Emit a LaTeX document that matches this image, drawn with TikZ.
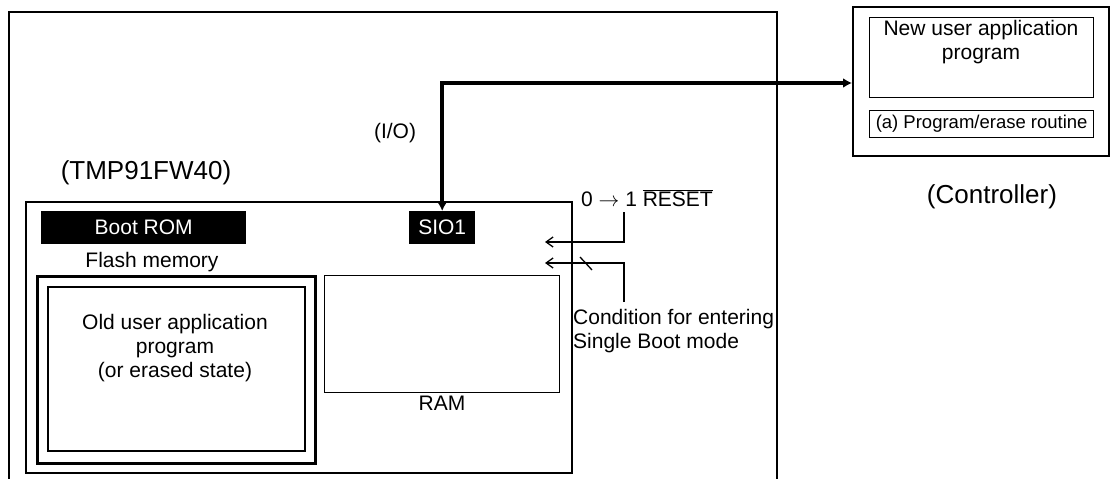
\documentclass[tikz,border=0pt]{standalone}
\usepackage{fontspec}
\setmainfont{Liberation Sans}
\usetikzlibrary{arrows.meta}
\begin{document}
\begin{tikzpicture}[x=1pt,y=-1pt,
  txt/.style={font=\fontsize{21}{24}\selectfont, inner sep=0pt, align=center},
  big/.style={font=\fontsize{26}{30}\selectfont, inner sep=0pt},
  small/.style={font=\fontsize{18.5}{22}\selectfont, inner sep=0pt},
  blk/.style={fill=black, text=white, font=\fontsize{21}{24}\selectfont, inner sep=0pt, anchor=north west},
  box/.style={draw, line width=#1, inner sep=0pt, anchor=north west},
  box/.default=1.3pt,
  sig/.style={line width=1.3pt, -{Straight Barb[length=7pt,width=10pt]}},
  bus/.style={line width=4pt, {Latex[length=9pt,width=10pt]}-{Latex[length=9pt,width=10pt]}}
]
\useasboundingbox (0,0) rectangle (1117,479);
% outer device box (open at bottom)
\draw[line width=2pt] (9,479) -- (9,12) -- (777,12) -- (777,479);
% chip
\node[box=1.5pt, minimum width=546pt, minimum height=271pt] (chip) at (25,201) {};
\node[blk, minimum width=205pt, minimum height=33pt] (boot) at (41,211) {Boot ROM};
\node[blk, minimum width=66pt, minimum height=33pt] (sio) at (409,211) {SIO1};
\node[txt] (flashlbl) at (152,262) {Flash memory};
\node[box=2.5pt, minimum width=278pt, minimum height=187pt] (flash) at (36,275) {};
\node[box=1.5pt, minimum width=257pt, minimum height=164pt] (old) at (47,286) {};
\node[txt] (oldtxt) at (175,348) {Old user application\\program\\(or erased state)};
\node[box, minimum width=235pt, minimum height=117pt] (ram) at (324,275) {};
\node[txt] (ramlbl) at (442,403) {RAM};
\node[big] (tmp) at (146,173) {(TMP91FW40)};
\node[txt] (io) at (395,133) {(I/O)};
% controller
\node[box=2pt, minimum width=256pt, minimum height=149pt] (ctrl) at (852,6) {};
\node[box, minimum width=224pt, minimum height=80pt] (newapp) at (869,17) {};
\node[txt] (newtxt) at (981,42) {New user application\\program};
\node[box, minimum width=224pt, minimum height=27pt, small] (routine) at (869,110) {(a) Program/erase routine};
\node[big] (ctrllbl) at (992,197) {(Controller)};
% bus connector
\coordinate (cin) at (852,83);
\draw[bus] (cin) -| (sio.north);
% reset / boot-mode condition
\node[txt, anchor=west] (reset) at (581,198) {0 \(\rightarrow\) 1 \(\overline{\hbox{RESET}}\)};
\coordinate (r1a) at (624,212);
\coordinate (r1b) at (545,242);
\coordinate (r2a) at (624,302);
\coordinate (r2b) at (545,263);
\draw[sig] (r1a) |- (r1b);
\draw[sig] (r2a) |- (r2b);
\coordinate (s1) at (580,257);
\coordinate (s2) at (592,270);
\draw[line width=1.3pt] (s1) -- (s2);
\node[txt, anchor=west, align=left] (cond) at (573,331) {Condition for entering\\Single Boot mode};
\end{tikzpicture}
\end{document}
